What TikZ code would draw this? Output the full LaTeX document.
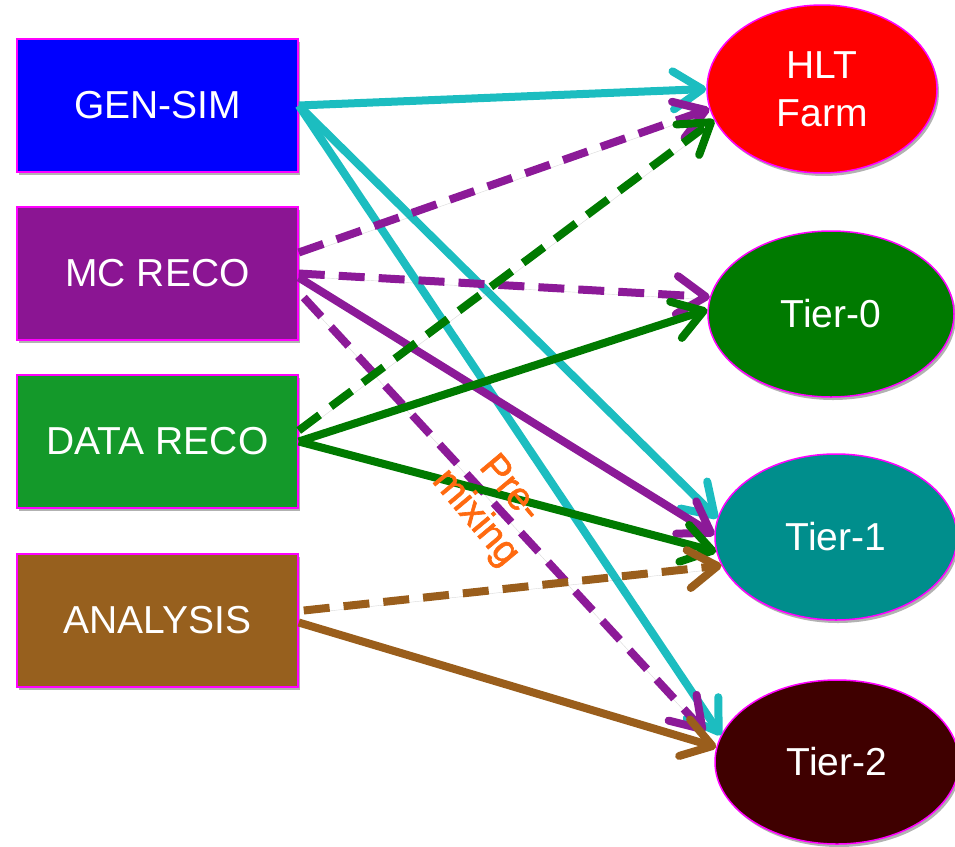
\documentclass[tikz,border=0pt]{standalone}
\usepackage{fontspec}
\setmainfont{Liberation Sans}
\newfontfamily\premixfont[FakeBold=1.6]{Liberation Sans}
\usetikzlibrary{arrows.meta,shapes.geometric,shadows}

\definecolor{edgemag}{HTML}{FF00FF}
\definecolor{genblue}{HTML}{0000FF}
\definecolor{mcpurple}{HTML}{8B1593}
\definecolor{datagreen}{HTML}{14992A}
\definecolor{anabrown}{HTML}{97601E}
\definecolor{hltred}{HTML}{FF0000}
\definecolor{tzerogreen}{HTML}{007A00}
\definecolor{toneteal}{HTML}{008E8C}
\definecolor{ttwomaroon}{HTML}{3F0000}
\definecolor{cyanline}{HTML}{1CBDC0}
\definecolor{purpleline}{HTML}{8C1A98}
\definecolor{greenline}{HTML}{007A00}
\definecolor{brownline}{HTML}{9A5E1C}
\definecolor{premixorange}{HTML}{FF6A10}

\begin{document}
\begin{tikzpicture}[x=1pt,y=-1pt,
  softshadow/.style={drop shadow={shadow xshift=2pt,shadow yshift=-3pt,opacity=0.3,fill=black}},
  box/.style={rectangle,draw=edgemag,line width=1.5pt,minimum width=281pt,
    minimum height=133pt,inner sep=0pt,text=white,
    font=\fontsize{39}{46}\selectfont,softshadow},
  site/.style={ellipse,draw=edgemag,line width=1.5pt,inner sep=0pt,text=white,
    align=center,font=\fontsize{39}{48}\selectfont,softshadow},
  flow/.style={line width=8pt,line cap=butt,
    -{Straight Barb[length=29pt,width=38pt,round]},
    preaction={draw=black!60,draw opacity=0.25,transform canvas={xshift=1.5pt,yshift=-3pt}}},
  dashflow/.style={flow,dash pattern=on 26pt off 14pt},
  premix/.style={align=center,text=premixorange,
    font=\premixfont\fontsize{39}{45}\selectfont,inner sep=0pt}
]
\useasboundingbox (0,0) rectangle (955,846);

% workflow boxes
\node[box,fill=genblue]   (gen)  at (157.5,105.5) {GEN-SIM};
\node[box,fill=mcpurple]  (mc)   at (157.5,273.5) {MC RECO};
\node[box,fill=datagreen] (data) at (157.5,441.5) {DATA RECO};
\node[box,fill=anabrown]  (ana)  at (157.5,620.5) {ANALYSIS};

% computing sites
\node[site,fill=hltred,minimum width=230pt,minimum height=168pt]     (hlt) at (822,89)  {HLT\\Farm};
\node[site,fill=tzerogreen,minimum width=246pt,minimum height=166pt] (t0)  at (831,314) {Tier-0};
\node[site,fill=toneteal,minimum width=242pt,minimum height=166pt]   (t1)  at (836,537) {Tier-1};
\node[site,fill=ttwomaroon,minimum width=244pt,minimum height=164pt] (t2)  at (837,762) {Tier-2};

% GEN-SIM
\draw[flow,cyanline] (gen.east) -- (hlt.180);
\draw[flow,cyanline] (gen.east) -- (t1.171);
\draw[flow,cyanline] (gen.east) -- (t2.167);

% MC RECO
\draw[dashflow,purpleline] ([yshift=21pt]mc.east) -- (hlt.190);
\draw[dashflow,purpleline] (mc.east) -- (t0.172);
\draw[flow,purpleline] ([yshift=-4pt]mc.east) -- (t1.179);
\draw[dashflow,purpleline] ([xshift=5pt,yshift=-24pt]mc.east) -- ([xshift=-132pt,yshift=30pt]t2.center);

% DATA RECO
\draw[dashflow,greenline] ([yshift=11pt]data.east) -- (hlt.196);
\draw[flow,greenline] (data.east) -- (t0.178);
\draw[flow,greenline] (data.east) -- (t1.187);

% ANALYSIS
\draw[dashflow,brownline] ([xshift=5pt,yshift=10pt]ana.east) -- (t1.194);
\draw[flow,brownline] ([yshift=-2pt]ana.east) -- (t2.173);

% label on the pre-mixing flow
\node[premix,rotate=-50] (premixlabel) at (492,504) {Pre-\\mixing};
\end{tikzpicture}
\end{document}
